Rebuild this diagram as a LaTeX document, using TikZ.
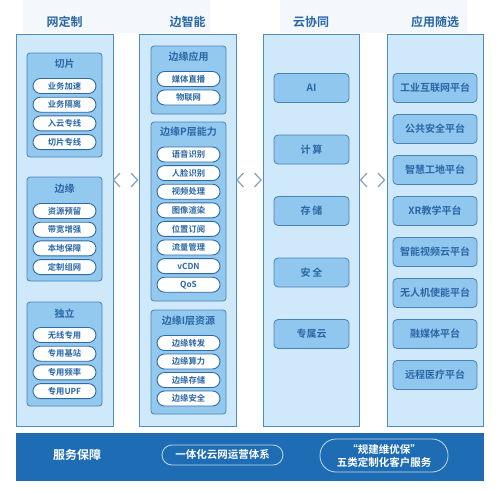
\documentclass[tikz,border=0pt]{standalone}
\usepackage{fontspec}
\setmainfont{Noto Sans CJK SC}[BoldFont={* Bold}]
\definecolor{colfill}{HTML}{CFE9FA}
\definecolor{colline}{HTML}{4C8DC2}
\definecolor{grpfill}{HTML}{93C9EE}
\definecolor{grpline}{HTML}{4A82B6}
\definecolor{pilline}{HTML}{2F6AA3}
\definecolor{txt}{HTML}{2A66A6}
\definecolor{boxfill}{HTML}{8FC7EE}
\definecolor{boxline}{HTML}{4A82B6}
\definecolor{band}{HTML}{1D6CB4}
\definecolor{chev}{HTML}{8DA4BC}
\definecolor{hdrbg}{HTML}{F4F8FC}
\tikzset{
  colbox/.style={draw=colline,fill=colfill,line width=0.8pt,minimum width=#1,inner sep=0pt},
  grpbox/.style={draw=grpline,fill=grpfill,line width=0.8pt,rounded corners=3pt,minimum width=75pt,inner sep=0pt},
  pillnode/.style={draw=pilline,fill=white,line width=0.9pt,rounded corners=7.5pt,minimum width=63pt,minimum height=15pt,inner sep=0pt,text=txt,font=\bfseries\fontsize{8.3}{9}\selectfont},
  hdr/.style={text=txt,font=\bfseries\fontsize{12}{14}\selectfont},
  gtitle/.style={text=txt,font=\bfseries\fontsize{10}{12}\selectfont},
  platbox/.style={draw=boxline,fill=boxfill,line width=0.8pt,rounded corners=4pt,minimum width=#1,minimum height=29pt,inner sep=0pt,text=txt,font=\bfseries\fontsize{10}{12}\selectfont},
  chevline/.style={draw=chev,line width=1.3pt},
  bandpill/.style={draw=white!75!band,line width=0.8pt,rounded corners=10pt,inner sep=0pt,text=white,font=\bfseries\fontsize{10.5}{13}\selectfont,align=center}
}
\begin{document}
\begin{tikzpicture}[x=1pt,y=-1pt]
\useasboundingbox (0,0) rectangle (500,493);
% faint header backgrounds
\fill[hdrbg] (23,0) rectangle (210,33);
\fill[hdrbg] (280,0) rectangle (467,33);
% headers
\node[hdr] (h1) at (64.5,22) {网定制};
\node[hdr] (h2) at (187.5,22) {边智能};
\node[hdr] (h3) at (311,22) {云协同};
\node[hdr] (h4) at (435,22) {应用随选};
% columns
\node[colbox=97pt,minimum height=392pt] (c1) at (64.5,230) {};
\node[colbox=97pt,minimum height=392pt] (c2) at (187.5,230) {};
\node[colbox=96pt,minimum height=392pt] (c3) at (311,230) {};
\node[colbox=96pt,minimum height=392pt] (c4) at (435,230) {};
% column 1 groups
\node[grpbox,minimum height=104pt] (g11) at (64.5,105) {};
\node[grpbox,minimum height=104pt] (g12) at (64.5,229) {};
\node[grpbox,minimum height=104pt] (g13) at (64.5,354) {};
\node[gtitle] (t11) at (64.5,64) {切片};
\node[gtitle] (t12) at (64.5,189) {边缘};
\node[gtitle] (t13) at (64.5,314) {独立};
\foreach \t [count=\i] in {业务加速,业务隔离,入云专线,切片专线}
  \node[pillnode] (pa\i) at (64.5,{86+(\i-1)*18.7}) {\t};
\foreach \t [count=\i] in {资源预留,带宽增强,本地保障,定制组网}
  \node[pillnode] (pb\i) at (64.5,{211+(\i-1)*18.7}) {\t};
\foreach \t [count=\i] in {无线专用,专用基站,专用频率,专用UPF}
  \node[pillnode] (pc\i) at (64.5,{335+(\i-1)*18.7}) {\t};
% column 2 groups
\node[grpbox,minimum height=68pt] (g21) at (188.5,80) {};
\node[grpbox,minimum height=179pt] (g22) at (188.5,211.5) {};
\node[grpbox,minimum height=104pt] (g23) at (188.5,362) {};
\node[gtitle] (t21) at (188.5,57) {边缘应用};
\node[gtitle] (t22) at (188.5,132) {边缘P层能力};
\node[gtitle] (t23) at (188.5,321) {边缘I层资源};
\foreach \t [count=\i] in {媒体直播,物联网}
  \node[pillnode] (pd\i) at (188.5,{79+(\i-1)*18.5}) {\t};
\foreach \t [count=\i] in {语音识别,人脸识别,视频处理,图像渲染,位置订阅,流量管理,vCDN,QoS}
  \node[pillnode] (pe\i) at (188.5,{154.5+(\i-1)*18.6}) {\t};
\foreach \t [count=\i] in {边缘转发,边缘算力,边缘存储,边缘安全}
  \node[pillnode] (pf\i) at (188.5,{343+(\i-1)*18.5}) {\t};
% column 3
\foreach \t [count=\i] in {AI,计\,算,存\,储,安\,全,专属云}
  \node[platbox=75pt] (k\i) at (311.5,{88+(\i-1)*61.5}) {\t};
% column 4
\foreach \t [count=\i] in {工业互联网平台,公共安全平台,智慧工地平台,XR教学平台,智能视频云平台,无人机使能平台,融媒体平台,远程医疗平台}
  \node[platbox=84pt] (m\i) at (435,{88+(\i-1)*41}) {\t};
% chevrons
\foreach \c/\n in {126/a,249.5/b,373/c}{
  \coordinate (lt\n) at (\c-6,173);
  \coordinate (lm\n) at (\c-12.5,180);
  \coordinate (lb\n) at (\c-6,187);
  \coordinate (rt\n) at (\c+5,173);
  \coordinate (rm\n) at (\c+11.5,180);
  \coordinate (rb\n) at (\c+5,187);
  \draw[chevline] (lt\n) -- (lm\n) -- (lb\n);
  \draw[chevline] (rt\n) -- (rm\n) -- (rb\n);
}
% bottom band
\node[fill=band,minimum width=468pt,minimum height=48pt,inner sep=0pt] (band) at (250,457) {};
\node[text=white,font=\bfseries\fontsize{12}{14}\selectfont] (svc) at (77,455) {服务保障};
\node[bandpill,minimum width=121pt,minimum height=20pt] (bp1) at (222.5,455) {一体化云网运营体系};
\node[bandpill,minimum width=128pt,minimum height=33pt,rounded corners=16pt] (bp2) at (384,455.5) {“规建维优保”\\五类定制化客户服务};
\end{tikzpicture}
\end{document}
